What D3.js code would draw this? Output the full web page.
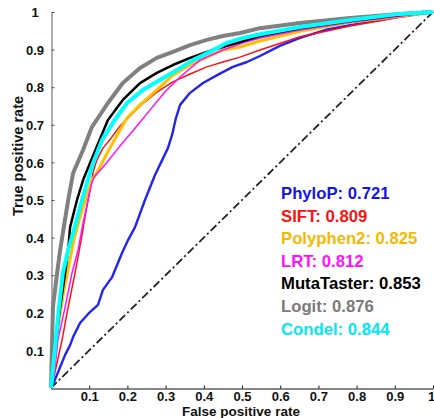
<!DOCTYPE html>
<html>
<head>
<meta charset="utf-8">
<script src="https://cdn.jsdelivr.net/npm/d3@7"></script>
<style>
  body { margin: 0; background: #fff; }
  svg text { font-family: "Liberation Sans", Arial, sans-serif; font-weight: bold; }
</style>
</head>
<body>
<div id="chart"></div>
<script>
var rateTicks = [0.1, 0.2, 0.3, 0.4, 0.5, 0.6, 0.7, 0.8, 0.9, 1];
var rateTickLabels = ['0.1', '0.2', '0.3', '0.4', '0.5', '0.6', '0.7', '0.8', '0.9', '1'];

var methods = ['PhyloP', 'SIFT', 'Polyphen2', 'LRT', 'MutaTaster', 'Logit', 'Condel'];
var aucs = ['0.721', '0.809', '0.825', '0.812', '0.853', '0.876', '0.844'];

// ROC points (false positive rate, true positive rate)
var phylopFpr = [0, 0.010, 0.024, 0.037, 0.050, 0.058, 0.076, 0.102, 0.123, 0.136, 0.160, 0.186, 0.202, 0.220, 0.246, 0.272, 0.291, 0.306, 0.317, 0.327, 0.338, 0.364, 0.398, 0.435, 0.476, 0.513, 0.547, 0.599, 0.652, 0.717, 0.783, 0.914, 1];
var phylopTpr = [0, 0.021, 0.056, 0.088, 0.114, 0.136, 0.173, 0.202, 0.221, 0.261, 0.295, 0.359, 0.394, 0.428, 0.500, 0.566, 0.606, 0.638, 0.673, 0.718, 0.753, 0.785, 0.811, 0.832, 0.854, 0.867, 0.883, 0.910, 0.931, 0.952, 0.965, 0.987, 1];

var siftFpr = [0, 0.010, 0.029, 0.045, 0.063, 0.079, 0.089, 0.097, 0.105, 0.110, 0.120, 0.136, 0.154, 0.181, 0.233, 0.277, 0.319, 0.364, 0.408, 0.450, 0.495, 0.547, 0.652, 0.783, 0.914, 1];
var siftTpr = [0, 0.040, 0.128, 0.215, 0.306, 0.394, 0.455, 0.500, 0.540, 0.574, 0.606, 0.638, 0.660, 0.697, 0.750, 0.787, 0.814, 0.835, 0.854, 0.867, 0.880, 0.899, 0.934, 0.963, 0.987, 1];

var polyphenFpr = [0, 0.008, 0.021, 0.034, 0.047, 0.060, 0.076, 0.092, 0.107, 0.120, 0.147, 0.175, 0.199, 0.233, 0.277, 0.319, 0.364, 0.408, 0.450, 0.495, 0.547, 0.652, 0.783, 0.914, 1];
var polyphenTpr = [0, 0.074, 0.181, 0.261, 0.327, 0.394, 0.455, 0.508, 0.553, 0.572, 0.625, 0.676, 0.718, 0.753, 0.793, 0.832, 0.859, 0.880, 0.899, 0.907, 0.923, 0.949, 0.973, 0.989, 1];

var lrtFpr = [0, 0.010, 0.018, 0.037, 0.055, 0.071, 0.084, 0.097, 0.105, 0.113, 0.141, 0.181, 0.220, 0.259, 0.298, 0.338, 0.390, 0.450, 0.503, 0.547, 0.652, 0.783, 0.914, 1];
var lrtTpr = [0, 0.048, 0.128, 0.215, 0.306, 0.367, 0.439, 0.500, 0.540, 0.561, 0.593, 0.644, 0.691, 0.739, 0.787, 0.827, 0.872, 0.899, 0.918, 0.931, 0.952, 0.973, 0.989, 1];

var mutaFpr = [0, 0.010, 0.024, 0.037, 0.045, 0.050, 0.068, 0.084, 0.102, 0.126, 0.149, 0.188, 0.233, 0.277, 0.319, 0.364, 0.408, 0.450, 0.495, 0.547, 0.652, 0.783, 0.914, 1];
var mutaTpr = [0, 0.101, 0.215, 0.306, 0.367, 0.428, 0.500, 0.553, 0.598, 0.657, 0.713, 0.766, 0.811, 0.838, 0.859, 0.878, 0.894, 0.907, 0.920, 0.936, 0.957, 0.976, 0.992, 1];

var logitFpr = [0, 0.003, 0.005, 0.016, 0.024, 0.031, 0.045, 0.058, 0.084, 0.107, 0.149, 0.188, 0.233, 0.277, 0.319, 0.364, 0.408, 0.450, 0.495, 0.547, 0.652, 0.783, 0.914, 1];
var logitTpr = [0, 0.128, 0.215, 0.306, 0.367, 0.412, 0.500, 0.572, 0.633, 0.694, 0.758, 0.811, 0.851, 0.878, 0.894, 0.912, 0.926, 0.936, 0.944, 0.957, 0.971, 0.984, 0.995, 1];

var condelFpr = [0, 0.010, 0.021, 0.031, 0.045, 0.058, 0.076, 0.094, 0.110, 0.134, 0.165, 0.199, 0.241, 0.285, 0.330, 0.372, 0.416, 0.461, 0.503, 0.547, 0.652, 0.783, 0.914, 1];
var condelTpr = [0, 0.101, 0.215, 0.306, 0.367, 0.412, 0.481, 0.545, 0.598, 0.660, 0.710, 0.758, 0.793, 0.819, 0.846, 0.872, 0.894, 0.918, 0.931, 0.941, 0.960, 0.979, 0.995, 1];

var series = [
    { fpr: phylopFpr, tpr: phylopTpr },
    { fpr: siftFpr, tpr: siftTpr },
    { fpr: polyphenFpr, tpr: polyphenTpr },
    { fpr: lrtFpr, tpr: lrtTpr },
    { fpr: mutaFpr, tpr: mutaTpr },
    { fpr: logitFpr, tpr: logitTpr },
    { fpr: condelFpr, tpr: condelTpr }
];

// styles
var lineColors = ['#2424ee', '#ff1010', '#ffc000', '#ff10ff', '#000000', '#808080', '#00ffff'];
var textColors = ['#1414e6', '#ff1010', '#f5b800', '#ff10ff', '#000000', '#7a7a7a', '#00e8f5'];
var lineWidths = [2.4, 1.5, 3, 1.5, 2.5, 4, 4];

var width = 434, height = 418;

var svg = d3.select('#chart').append('svg')
    .attr('width', width)
    .attr('height', height);

svg.append('rect').attr('width', width).attr('height', height).attr('fill', '#fff');

var x = d3.scaleLinear().domain([0, 1]).range([51, 433]);
var y = d3.scaleLinear().domain([0, 1]).range([388, 12]);

// axes
var xAxis = svg.append('g')
    .attr('transform', 'translate(0,388.5)')
    .call(d3.axisBottom(x)
        .tickValues(rateTicks)
        .tickFormat(function (d, i) { return rateTickLabels[i]; })
        .tickSizeInner(-3)
        .tickSizeOuter(0));
xAxis.select('.domain').attr('stroke', '#111').attr('stroke-width', 1.2);
xAxis.selectAll('.tick line').attr('stroke', '#111');
xAxis.selectAll('.tick text')
    .attr('y', 12.5)
    .attr('dy', null)
    .attr('fill', '#111')
    .style('font-size', '13px');
// last label sits against the right edge, as in the picture
xAxis.selectAll('.tick text')
    .filter(function (d) { return d === 1; })
    .attr('dx', -2);

var yAxis = svg.append('g')
    .attr('transform', 'translate(51.5,0)')
    .call(d3.axisLeft(y)
        .tickValues(rateTicks)
        .tickFormat(function (d, i) { return rateTickLabels[i]; })
        .tickSizeInner(-3)
        .tickSizeOuter(0));
yAxis.select('.domain').attr('stroke', '#777').attr('stroke-width', 1.2);
yAxis.selectAll('.tick line').attr('stroke', '#555');
yAxis.selectAll('.tick text')
    .attr('x', -16.5)
    .attr('text-anchor', 'middle')
    .attr('dy', '0.36em')
    .attr('fill', '#111')
    .style('font-size', '13px');

// chance diagonal
svg.append('line')
    .attr('x1', x(0)).attr('y1', y(0))
    .attr('x2', x(1)).attr('y2', y(1))
    .attr('stroke', '#222')
    .attr('stroke-width', 1.8)
    .attr('stroke-dasharray', '8,3,2,3');

// ROC curves
var line = d3.line()
    .x(function (d) { return x(d[0]); })
    .y(function (d) { return y(d[1]); });

svg.selectAll('path.roc')
    .data(series)
    .enter()
    .append('path')
    .attr('class', 'roc')
    .attr('d', function (d) { return line(d3.zip(d.fpr, d.tpr)); })
    .attr('fill', 'none')
    .attr('stroke', function (d, i) { return lineColors[i]; })
    .attr('stroke-width', function (d, i) { return lineWidths[i]; })
    .attr('stroke-linejoin', 'round');

// AUC legend
svg.selectAll('text.auc')
    .data(methods)
    .enter()
    .append('text')
    .attr('class', 'auc')
    .attr('x', 281)
    .attr('y', function (d, i) { return 199 + i * 22.6; })
    .attr('fill', function (d, i) { return textColors[i]; })
    .style('font-size', '16.7px')
    .text(function (d, i) { return d + ': ' + aucs[i]; });

// axis titles
svg.append('text')
    .attr('x', 241)
    .attr('y', 415.5)
    .attr('text-anchor', 'middle')
    .attr('fill', '#111')
    .style('font-size', '13.5px')
    .text('False positive rate');

svg.append('text')
    .attr('transform', 'translate(23,156) rotate(-90)')
    .attr('text-anchor', 'middle')
    .attr('fill', '#111')
    .style('font-size', '14.5px')
    .text('True positive rate');
</script>
</body>
</html>
